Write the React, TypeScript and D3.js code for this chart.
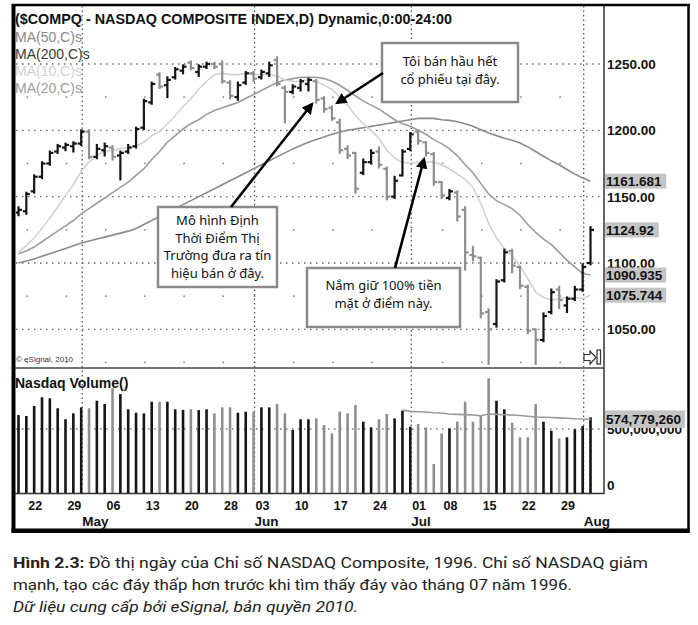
import * as d3 from "d3";

// NASDAQ Composite daily bars, 18 Apr 1996 .. 01 Aug 1996 (74 sessions)
const opens = [
  1138, 1139, 1154, 1165, 1175, 1184, 1187, 1188, 1190, 1199,
  1180, 1185, 1187, 1181, 1184, 1188, 1202, 1221, 1242, 1234,
  1240, 1245, 1251, 1244, 1248, 1250, 1250, 1236, 1225, 1236,
  1243, 1240, 1243, 1253, 1232, 1229, 1232, 1235, 1237, 1224,
  1217, 1206, 1186, 1183, 1168, 1176, 1184, 1171, 1150, 1166,
  1186, 1199, 1191, 1182, 1161, 1149, 1153, 1140, 1106, 1104,
  1063, 1054, 1087, 1109, 1097, 1082, 1050, 1042, 1063, 1080,
  1068, 1073, 1080, 1100,
];
const highs = [
  1142, 1153, 1166, 1176, 1184, 1189, 1190, 1191, 1200, 1200,
  1189, 1190, 1188, 1184, 1189, 1202, 1223, 1236, 1243, 1240,
  1247, 1249, 1252, 1249, 1251, 1251, 1252, 1237, 1236, 1244,
  1244, 1245, 1251, 1255, 1233, 1234, 1238, 1239, 1238, 1225,
  1218, 1208, 1188, 1183, 1178, 1185, 1187, 1172, 1165, 1185,
  1198, 1200, 1191, 1183, 1161, 1155, 1154, 1142, 1112, 1104,
  1065, 1087, 1110, 1110, 1097, 1083, 1050, 1062, 1080, 1082,
  1074, 1082, 1099, 1127,
];
const lows = [
  1136, 1137, 1153, 1164, 1174, 1183, 1185, 1184, 1189, 1179,
  1179, 1181, 1178, 1163, 1183, 1187, 1201, 1220, 1232, 1225,
  1239, 1243, 1246, 1241, 1247, 1247, 1236, 1224, 1223, 1235,
  1237, 1239, 1241, 1234, 1206, 1228, 1230, 1230, 1221, 1214,
  1208, 1183, 1179, 1153, 1167, 1175, 1172, 1148, 1149, 1166,
  1185, 1190, 1181, 1159, 1149, 1148, 1132, 1095, 1102, 1059,
  1024, 1052, 1086, 1093, 1081, 1047, 1024, 1041, 1062, 1066,
  1063, 1072, 1079, 1099,
];
const closes = [
  1140, 1152, 1165, 1175, 1183, 1188, 1189, 1190, 1199, 1180,
  1186, 1188, 1180, 1183, 1187, 1201, 1222, 1235, 1233, 1238,
  1246, 1248, 1247, 1248, 1250, 1248, 1237, 1226, 1234, 1243,
  1239, 1244, 1249, 1235, 1229, 1233, 1237, 1238, 1223, 1216,
  1209, 1185, 1181, 1156, 1176, 1183, 1174, 1150, 1162, 1184,
  1197, 1192, 1183, 1161, 1151, 1154, 1135, 1108, 1105, 1062,
  1050, 1086, 1108, 1098, 1083, 1049, 1042, 1060, 1078, 1072,
  1073, 1080, 1097, 1124.92,
];
// volume, millions of shares
const volumes = [
  609, 602, 680, 748, 740, 662, 576, 622, 669, 662,
  721, 695, 818, 773, 654, 627, 622, 713, 713, 713,
  654, 650, 654, 648, 654, 622, 669, 669, 627, 635,
  635, 669, 669, 695, 622, 492, 576, 576, 583, 531,
  466, 635, 622, 687, 557, 513, 576, 617, 583, 643,
  518, 539, 513, 227, 466, 505, 557, 713, 557, 602,
  896, 721, 654, 549, 435, 435, 695, 557, 487, 427,
  435, 498, 523, 591,
];
const ma10 = [
  1108, 1113, 1119, 1126, 1134, 1142, 1151, 1159, 1169, 1176,
  1181, 1184, 1185, 1186, 1187, 1188, 1191, 1196, 1199, 1205,
  1211, 1218, 1224, 1231, 1237, 1242, 1243, 1242, 1242, 1243,
  1242, 1242, 1242, 1241, 1238, 1237, 1237, 1238, 1237, 1234,
  1231, 1225, 1219, 1211, 1205, 1200, 1194, 1185, 1179, 1176,
  1175, 1176, 1176, 1176, 1174, 1171, 1167, 1163, 1157, 1145,
  1130, 1119, 1111, 1105, 1098, 1088, 1078, 1074, 1072, 1073,
  1074, 1074, 1073, 1075.744,
];
const ma20 = [
  1107, 1109, 1112, 1116, 1120, 1124, 1128, 1132, 1137, 1141,
  1145, 1149, 1153, 1157, 1161, 1166, 1171, 1178, 1184, 1191,
  1196, 1201, 1205, 1208, 1212, 1215, 1217, 1219, 1221, 1224,
  1227, 1230, 1233, 1236, 1238, 1239, 1240, 1240, 1240, 1239,
  1237, 1234, 1230, 1226, 1222, 1219, 1216, 1212, 1208, 1205,
  1203, 1200, 1197, 1193, 1190, 1186, 1181, 1174, 1168, 1160,
  1152, 1147, 1144, 1141, 1136, 1129, 1123, 1118, 1114, 1108,
  1102, 1097, 1092, 1090.935,
];
const ma50 = [
  1100, 1101.5, 1103, 1105, 1107, 1109, 1111, 1113, 1115, 1116.5,
  1118, 1119.5, 1121, 1122.5, 1124, 1126, 1129, 1132, 1135, 1138,
  1141, 1144, 1147, 1150, 1153, 1156, 1159, 1162, 1165, 1168,
  1171, 1174, 1177, 1180, 1183, 1186, 1188.5, 1191, 1193, 1195,
  1197, 1198.5, 1200, 1201, 1202, 1203, 1204, 1205, 1206, 1207,
  1208, 1209, 1209, 1209, 1208, 1207.5, 1206.5, 1205, 1203, 1200.5,
  1198, 1196, 1194, 1192.5, 1190.5, 1187.5, 1184, 1180.5, 1177, 1174,
  1170.5, 1167, 1164, 1161.681,
];
const volMaStart = 49;
const volMa = [
  648, 638, 635, 633, 627, 625, 617, 614, 612, 609,
  603, 617, 614, 611, 609, 605, 600, 594, 592, 590,
  587, 584, 580, 578, 574.77926,
];

const weekIdx = [2, 7, 12, 17, 22, 27, 31, 36, 41, 46, 51, 55, 60, 65, 70];
const weekLabels = ["22", "29", "06", "13", "20", "28", "03", "10", "17", "24", "01", "08", "15", "22", "29"];
const monthLastIdx = [8, 30, 50, 72];
const monthLabels = ["May", "Jun", "Jul", "Aug"];
const priceTicks = [1250, 1200, 1150, 1100, 1050];
const priceMinor = [1225, 1175, 1125, 1075, 1025];

const legend = [
  { label: "MA(50,C)s", color: "#8a8a8a" },
  { label: "MA(200,C)s", color: "#3a3a3a" },
  { label: "MA(10,C)s", color: "#d2d2d2" },
  { label: "MA(20,C)s", color: "#9c9c9c" },
];

const captionLine1 = "Đồ thị ngày của Chỉ số NASDAQ Composite, 1996. Chỉ số NASDAQ giảm";
const captionLine2 = "mạnh, tạo các đáy thấp hơn trước khi tìm thấy đáy vào tháng 07 năm 1996.";
const captionLine3 = "Dữ liệu cung cấp bởi eSignal, bản quyền 2010.";

const UP = "#151515";
const DOWN = "#8e8e8e";
const SANS = "'Liberation Sans', Arial, sans-serif";
const NOTO = "'Noto Sans', 'DejaVu Sans', sans-serif";

export default function App() {
  const x = d3.scaleLinear().domain([0, 73]).range([18.5, 590.5]);
  const y = d3.scaleLinear().domain([1050, 1250]).range([329.3, 64]);
  const yv = d3.scaleLinear().domain([0, 500]).range([493, 429]);
  const gridX = (i: number) => x(i) + 1;
  const isUp = (i: number) => i === 0 || closes[i] >= closes[i - 1];

  const maLine = d3
    .line<number>()
    .x((_, i) => x(i))
    .y((v) => y(v));
  const volLine = d3
    .line<number>()
    .x((_, i) => x(i + volMaStart))
    .y((v) => yv(v));

  const lastMarks = [
    { v: ma50[ma50.length - 1], text: ma50[ma50.length - 1].toFixed(3) },
    { v: closes[closes.length - 1], text: closes[closes.length - 1].toFixed(2) },
    { v: ma20[ma20.length - 1], text: ma20[ma20.length - 1].toFixed(3) },
    { v: ma10[ma10.length - 1], text: ma10[ma10.length - 1].toFixed(3) },
  ];
  const lastVol = volMa[volMa.length - 1];

  const boxes = [
    { x: 382, y: 43, w: 136, h: 59, lines: ["Tôi bán hầu hết", "cổ phiếu tại đây."], y0: 66 },
    { x: 158, y: 207, w: 119, h: 80, lines: ["Mô hình Định", "Thời Điểm Thị", "Trường đưa ra tín", "hiệu bán ở đây."], y0: 225 },
    { x: 307, y: 268, w: 153, h: 59, lines: ["Nắm giữ 100% tiền", "mặt ở điểm này."], y0: 290 },
  ];
  const arrows = [
    [383, 73, 337, 103],
    [231, 207, 312, 104],
    [395, 268, 424, 159],
  ];

  return (
    <svg width={698} height={625} style={{ position: "absolute", left: 0, top: 0, background: "#fff" }}>
      <defs>
        <clipPath id="pricePanel">
          <rect x={16} y={6} width={587} height={361} />
        </clipPath>
        <marker id="head" viewBox="0 0 10 10" refX={8} refY={5} markerWidth={4.5} markerHeight={4.5} orient="auto">
          <path d="M0,0 L10,5 L0,10 z" fill="#000" />
        </marker>
      </defs>
      <rect x={0} y={0} width={698} height={625} fill="#fff" />

      {/* grid */}
      {priceTicks.map((t) => (
        <line key={t} x1={16} x2={603} y1={y(t)} y2={y(t)} stroke="#666" strokeWidth={1.3} strokeDasharray="1.5 4.5" />
      ))}
      {priceMinor.map((t) =>
        weekIdx.map((w) => (
          <rect key={`${t}-${w}`} x={gridX(w - 1) - 0.75} y={y(t) - 0.75} width={1.5} height={1.5} fill="#777" />
        ))
      )}
      {monthLastIdx.map((m) => (
        <line key={m} x1={gridX(m)} x2={gridX(m)} y1={6} y2={493} stroke="#555" strokeWidth={1.3} strokeDasharray="1.5 3" />
      ))}
      <line x1={16} x2={603} y1={yv(500)} y2={yv(500)} stroke="#777" strokeWidth={1.3} strokeDasharray="1.5 4.5" />

      {/* moving averages */}
      <g clipPath="url(#pricePanel)" fill="none" strokeWidth={1.6}>
        <path d={maLine(ma50) ?? ""} stroke="#8a8a8a" />
        <path d={maLine(ma20) ?? ""} stroke="#9c9c9c" />
        <path d={maLine(ma10) ?? ""} stroke="#d2d2d2" />
      </g>

      {/* OHLC bars */}
      <g clipPath="url(#pricePanel)" strokeWidth={2.2}>
        {closes.map((c, i) => {
          const cx = x(i);
          const col = isUp(i) ? UP : DOWN;
          return (
            <g key={i} stroke={col}>
              <line x1={cx} x2={cx} y1={y(highs[i]) - 1} y2={y(lows[i]) + 1} />
              <line x1={cx - 3.5} x2={cx} y1={y(opens[i])} y2={y(opens[i])} />
              <line x1={cx} x2={cx + 3.5} y1={y(c)} y2={y(c)} />
            </g>
          );
        })}
      </g>

      {/* volume */}
      {volumes.map((v, i) => (
        <rect key={i} x={x(i) - 1.3} y={yv(v)} width={2.6} height={yv(0) - yv(v)} fill={isUp(i) ? UP : DOWN} />
      ))}
      <path d={volLine(volMa) ?? ""} fill="none" stroke="#9a9a9a" strokeWidth={1.6} />

      {/* panel frames */}
      <line x1={14} x2={604} y1={368} y2={368} stroke="#444" strokeWidth={1.5} />
      <line x1={14} x2={604} y1={493.5} y2={493.5} stroke="#333" strokeWidth={1.5} />
      <line x1={604} x2={604} y1={5} y2={494} stroke="#333" strokeWidth={1.5} />
      <line x1={12} x2={690} y1={5} y2={5} stroke="#000" strokeWidth={2.5} />
      <line x1={688.5} x2={688.5} y1={4} y2={533} stroke="#000" strokeWidth={2.5} />
      <rect x={11.5} y={4} width={4} height={529} fill="#000" />
      <rect x={11.5} y={528.5} width={678} height={4.5} fill="#000" />

      {/* title and legend */}
      <text x={15} y={24} fontFamily={SANS} fontWeight="bold" fontSize={14} fill="#111" textLength={437} lengthAdjust="spacingAndGlyphs">
        ($COMPQ - NASDAQ COMPOSITE INDEX,D) Dynamic,0:00-24:00
      </text>
      {legend.map((l, k) => (
        <text key={l.label} x={15} y={42 + k * 17} fontFamily={SANS} fontSize={14} fill={l.color}>
          {l.label}
        </text>
      ))}
      <text x={16} y={362} fontFamily={SANS} fontSize={8} fill="#333">
        © eSignal, 2010
      </text>
      <text x={15} y={388} fontFamily={SANS} fontWeight="bold" fontSize={14} fill="#111">
        Nasdaq Volume()
      </text>

      {/* scroll icon */}
      <path d="M584,354.5 h6 v-3.5 l6,6.5 l-6,6.5 v-3.5 h-6 z" fill="#fff" stroke="#333" strokeWidth={1.2} />
      <rect x={597} y={350} width={3.5} height={14} fill="#fff" stroke="#333" strokeWidth={1.2} />

      {/* right axis */}
      {priceTicks.map((t) => (
        <text key={t} x={607} y={y(t)} dy="0.36em" fontFamily={SANS} fontWeight="bold" fontSize={13.5} fill="#111">
          {t.toFixed(2)}
        </text>
      ))}
      {lastMarks.map((m) => (
        <g key={m.text}>
          <rect x={605} y={y(m.v) - 7.5} width={m.text.length * 7.4 + 2} height={15} fill="#c4c4c4" />
          <text x={606} y={y(m.v)} dy="0.36em" fontFamily={SANS} fontWeight="bold" fontSize={13.5} fill="#111">
            {m.text}
          </text>
        </g>
      ))}
      <text x={607} y={yv(500)} dy="0.36em" fontFamily={SANS} fontWeight="bold" fontSize={13.5} fill="#111">
        {d3.format(",")(500000000)}
      </text>
      <rect x={605} y={yv(lastVol) - 9} width={80} height={17.5} fill="#c4c4c4" />
      <text x={606} y={yv(lastVol)} dy="0.36em" fontFamily={SANS} fontWeight="bold" fontSize={13.5} fill="#111">
        {d3.format(",")(Math.round(lastVol * 1e6))}
      </text>
      <text x={607} y={yv(0) - 8} dy="0.36em" fontFamily={SANS} fontWeight="bold" fontSize={13.5} fill="#111">
        0
      </text>

      {/* date axis */}
      {weekIdx.map((w, k) => (
        <text key={k} x={x(w) + 1} y={510} textAnchor="middle" fontFamily={SANS} fontWeight="bold" fontSize={12.5} fill="#111">
          {weekLabels[k]}
        </text>
      ))}
      {monthLastIdx.map((m, k) => (
        <text key={k} x={gridX(m)} y={526} fontFamily={SANS} fontWeight="bold" fontSize={13.5} fill="#111">
          {monthLabels[k]}
        </text>
      ))}

      {/* annotations */}
      {boxes.map((b) => (
        <g key={b.lines[0]}>
          <rect x={b.x} y={b.y} width={b.w} height={b.h} fill="#fff" stroke="#8a8a8a" strokeWidth={2.5} />
          {b.lines.map((ln, k) => (
            <text key={ln} x={b.x + b.w / 2} y={b.y0 + k * 17.5} textAnchor="middle" fontFamily={NOTO} fontSize={13} fill="#111">
              {ln}
            </text>
          ))}
        </g>
      ))}
      {arrows.map(([x1, y1, x2, y2], k) => (
        <line key={k} x1={x1} y1={y1} x2={x2} y2={y2} stroke="#000" strokeWidth={2.6} markerEnd="url(#head)" />
      ))}

      {/* caption */}
      <text x={13} y={568} fontFamily="'Roboto', sans-serif" fontSize={15.5} fill="#222" textLength={635} lengthAdjust="spacingAndGlyphs">
        <tspan fontWeight="bold">Hình 2.3: </tspan>
        {captionLine1}
      </text>
      <text x={13} y={590} fontFamily="'Roboto', sans-serif" fontSize={15.5} fill="#222" textLength={559} lengthAdjust="spacingAndGlyphs">
        {captionLine2}
      </text>
      <text x={13} y={612} fontFamily="'Roboto', sans-serif" fontSize={15.5} fontStyle="italic" fill="#222" textLength={345} lengthAdjust="spacingAndGlyphs">
        {captionLine3}
      </text>
    </svg>
  );
}
